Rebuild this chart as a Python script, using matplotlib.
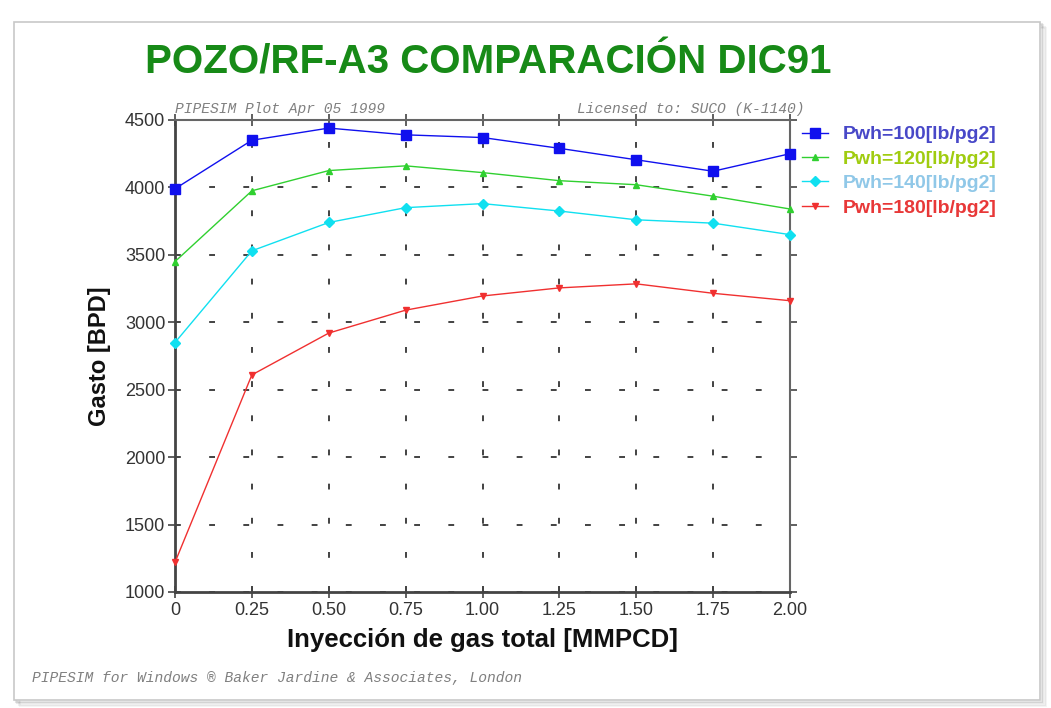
import numpy as np
import matplotlib
matplotlib.use("Agg")
import matplotlib.pyplot as plt
from matplotlib import font_manager
from matplotlib.patches import Rectangle

# gas injection rate [MMPCD]
gas_iny = [0, 0.25, 0.50, 0.75, 1.00, 1.25, 1.50, 1.75, 2.00]

# oil rate [BPD] for each wellhead pressure
gasto_100 = [3990, 4350, 4440, 4390, 4370, 4290, 4205, 4120, 4250]
gasto_120 = [3450, 3975, 4125, 4160, 4110, 4050, 4020, 3935, 3840]
gasto_140 = [2850, 3530, 3740, 3850, 3880, 3825, 3760, 3735, 3650]
gasto_180 = [1220, 2610, 2920, 3090, 3195, 3255, 3285, 3215, 3160]

etiquetas = ["Pwh=100[lb/pg2]", "Pwh=120[lb/pg2]",
             "Pwh=140[lb/pg2]", "Pwh=180[lb/pg2]"]
x_ticks = [0, 0.25, 0.50, 0.75, 1.00, 1.25, 1.50, 1.75, 2.00]
x_ticklabels = ["0", "0.25", "0.50", "0.75", "1.00", "1.25", "1.50", "1.75", "2.00"]
y_ticks = [1000, 1500, 2000, 2500, 3000, 3500, 4000, 4500]

fam = ["Liberation Sans"]

W, H = 1051, 708
fig = plt.figure(figsize=(W / 100, H / 100), dpi=100)
fig.patch.set_facecolor("white")

# slide frame with a soft shadow
for i, a in enumerate([0.10, 0.08, 0.06, 0.04]):
    d = (i + 1) * 1.5
    fig.patches.append(Rectangle(((14 + d) / W, (8 - d) / H), 1026 / W, 678 / H,
                                 transform=fig.transFigure, fill=False,
                                 edgecolor="black", lw=1.5, alpha=a, zorder=-2))
fig.patches.append(Rectangle((14 / W, 8 / H), 1026 / W, 678 / H,
                             transform=fig.transFigure, facecolor="white",
                             edgecolor="#c8c8c8", lw=1.2, zorder=-1))

ax = fig.add_axes([175 / W, 1 - 592 / H, 615 / W, 472 / H])
ax.set_zorder(2)
ax.patch.set_alpha(0)

series = [
    (gasto_100, "#1010ee", "s", 7, "#4848c8"),
    (gasto_120, "#30d030", "^", 4.5, "#a0cc10"),
    (gasto_140, "#10e0f0", "D", 5.5, "#90c8e8"),
    (gasto_180, "#f03030", "v", 5, "#e83838"),
]
for (vals, c, m, ms, _), lab in zip(series, etiquetas):
    ax.plot(gas_iny, vals, color=c, lw=1.0, marker=m, ms=ms,
            mec=c, mfc=c, label=lab, clip_on=False, zorder=3)

ax.set_xlim(0, 2.0)
ax.set_ylim(1000, 4500)
ax.set_xticks(x_ticks)
ax.set_xticklabels(x_ticklabels)
ax.set_yticks(y_ticks)

ax.grid(True, color="#222222", lw=1.2, linestyle=(0, (3.5, 17)))

for lado in ["left", "bottom"]:
    ax.spines[lado].set_color("#444444")
    ax.spines[lado].set_linewidth(2)
for lado in ["top", "right"]:
    ax.spines[lado].set_color("#666666")
    ax.spines[lado].set_linewidth(1.5)

ax.tick_params(axis="y", which="both", direction="out", length=5, width=1.2,
               color="#444444", labelcolor="#333333", right=True, pad=2)
ax.tick_params(axis="x", which="both", direction="inout", length=8, width=1.2,
               color="#444444", labelcolor="#333333", top=True, pad=3)
for t in ax.get_xticklabels() + ax.get_yticklabels():
    t.set_family(fam)
    t.set_fontsize(13)

ax.set_xlabel("Inyección de gas total [MMPCD]", family=fam, fontsize=18.5,
              fontweight="bold", color="#111111", labelpad=7)
ax.set_ylabel("Gasto [BPD]", family=fam, fontsize=17,
              fontweight="bold", color="#111111", labelpad=10)

fig.text(145 / W, 1 - 62 / H, "POZO/RF-A3 COMPARACIÓN DIC91", family=fam,
         fontsize=29, fontweight="bold", color="#178a17", va="center", ha="left")

mono = dict(family="Liberation Mono", style="italic", color="#808080", fontsize=10.5)
fig.text(175 / W, 1 - 109 / H, "PIPESIM Plot Apr 05 1999", va="center", ha="left", **mono)
fig.text(805 / W, 1 - 109 / H, "Licensed to: SUCO (K-1140)", va="center", ha="right", **mono)
fig.text(32 / W, 1 - 678 / H, "PIPESIM for Windows \u00ae Baker Jardine & Associates, London",
         va="center", ha="left", **mono)

leg = fig.legend(loc="upper left", bbox_to_anchor=(794 / W, 1 - 118 / H),
                 frameon=False, handlelength=1.35, handletextpad=0.75,
                 labelspacing=0.35, borderaxespad=0,
                 labelcolor=[s[4] for s in series],
                 prop=font_manager.FontProperties(family=fam, weight="bold",
                                                  size=14))

fig.savefig("out.png", dpi=100)
